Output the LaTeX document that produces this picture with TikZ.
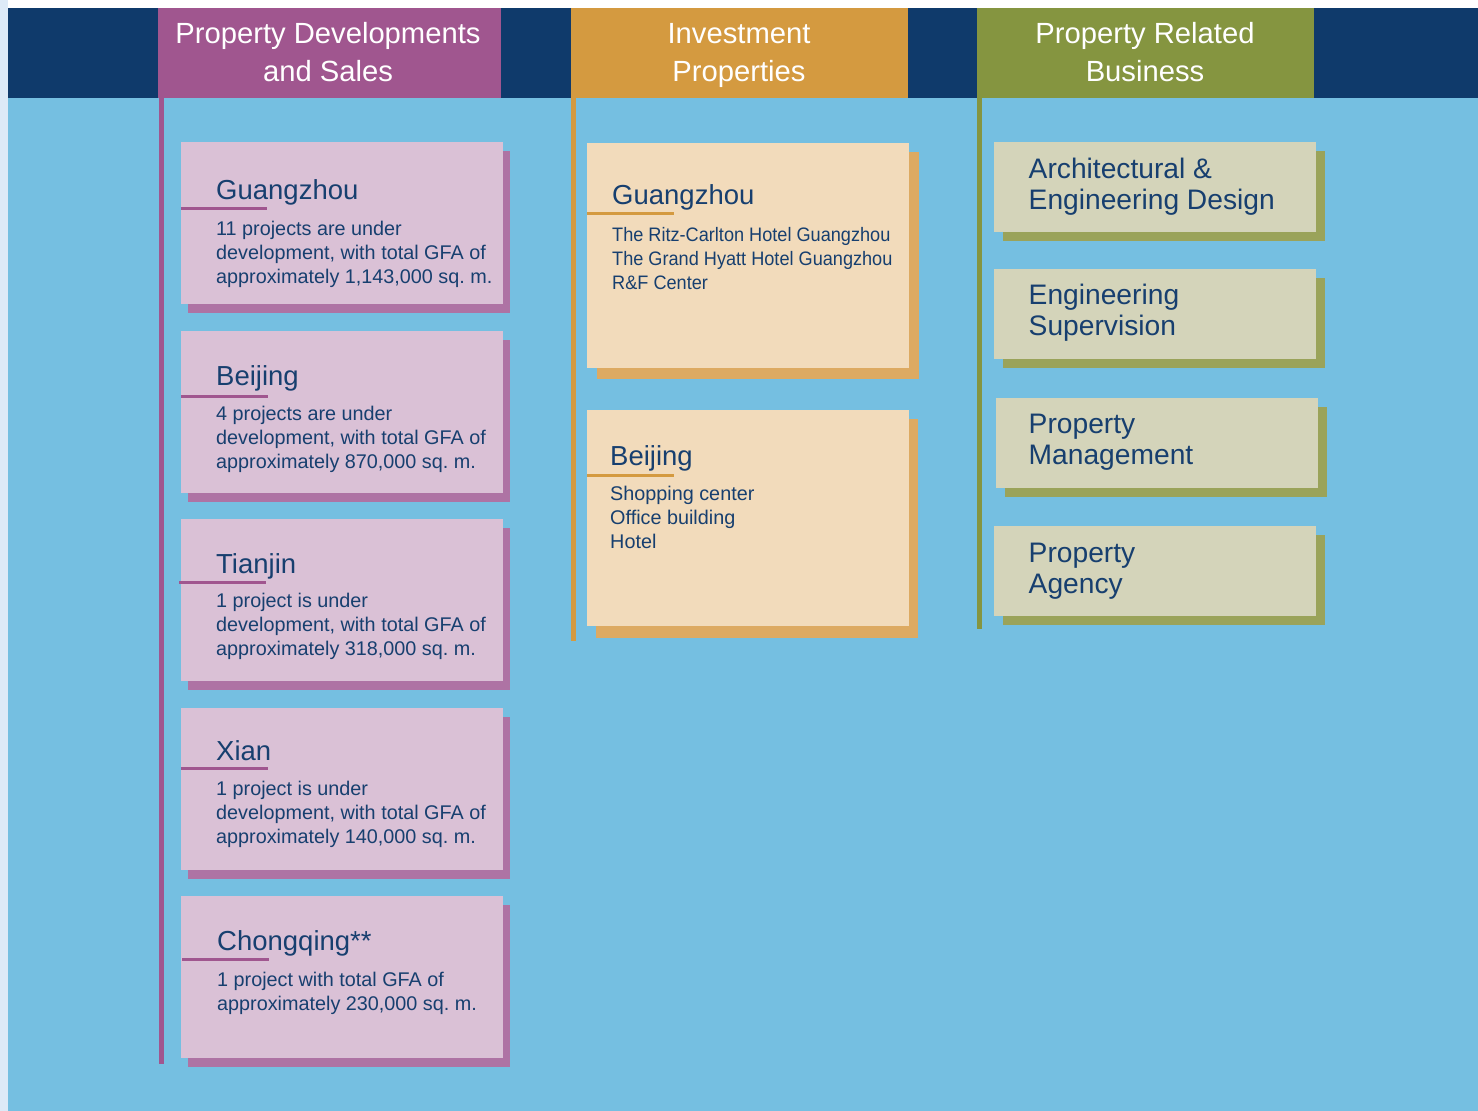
\documentclass[tikz,border=0pt]{standalone}
\usepackage{fontspec}
\setmainfont{Liberation Sans}
\newfontfamily\narrowfont[FakeStretch=0.93]{Liberation Sans}
\frenchspacing
\definecolor{navy}{HTML}{0F3A6B}
\definecolor{bgblue}{HTML}{75BFE1}
\definecolor{strip}{HTML}{DDEAF7}
\definecolor{hpurple}{HTML}{A0568F}
\definecolor{bpurple}{HTML}{DAC1D6}
\definecolor{spurple}{HTML}{AE73A4}
\definecolor{horange}{HTML}{D49A40}
\definecolor{borange}{HTML}{F2DBBB}
\definecolor{sorange}{HTML}{DDAA62}
\definecolor{holive}{HTML}{859540}
\definecolor{bolive}{HTML}{D4D4BA}
\definecolor{solive}{HTML}{9AA35A}
\definecolor{txt}{HTML}{173F6F}
\newcommand\leftlines[1]{\vtop{\halign{##\hfil\cr#1\crcr}}}
\newcommand\centerlines[1]{\vtop{\halign{\hfil##\hfil\cr#1\crcr}}}
\tikzset{
  panel/.style={draw=none, inner sep=0pt, outer sep=0pt, anchor=north west},
  hdrtxt/.style={inner sep=0pt, anchor=base, text=white, font=\fontsize{29.2}{38.3}\selectfont},
  ttl/.style={inner sep=0pt, anchor=base west, text=txt, font=\fontsize{27.5}{32}\selectfont},
  bodytxt/.style={inner sep=0pt, anchor=base west, text=txt, font=\fontsize{19.8}{24}\selectfont},
  narrowtxt/.style={inner sep=0pt, anchor=base west, text=txt, font=\narrowfont\fontsize{19.5}{24}\selectfont},
  bigtxt/.style={inner sep=0pt, anchor=base west, text=txt, font=\fontsize{28.2}{31.5}\selectfont},
  uline/.style={line width=3pt},
}
\begin{document}
\begin{tikzpicture}[x=1pt,y=-1pt]
\useasboundingbox (0,0) rectangle (1478,1111);
% background
\fill[white] (0,0) rectangle (1478,1111);
\fill[strip] (0,0) rectangle (8,1111);
\fill[bgblue] (8,98) rectangle (1478,1111);
\fill[navy] (8,8) rectangle (1478,98);

% headers
\node[panel, fill=hpurple, minimum width=343pt, minimum height=90pt] (h1) at (158,8) {};
\node[panel, fill=horange, minimum width=337pt, minimum height=90pt] (h2) at (571,8) {};
\node[panel, fill=holive, minimum width=337.5pt, minimum height=90pt] (h3) at (976.5,8) {};
\node[hdrtxt] (h1t) at (328,43.3) {\centerlines{Property Developments\cr and Sales}};
\node[hdrtxt] (h2t) at (739,43.3) {\centerlines{Investment\cr Properties}};
\node[hdrtxt] (h3t) at (1145,43.3) {\centerlines{Property Related\cr Business}};

% vertical bars
\fill[hpurple] (158.5,98) rectangle (164,1063.5);
\fill[horange] (571,98) rectangle (576,640.5);
\fill[holive] (976.7,98) rectangle (982,629);

% ---------- left column ----------
\fill[spurple] (188,151) rectangle (510,312.7);
\node[panel, fill=bpurple, minimum width=322pt, minimum height=161.7pt] (l1) at (181,142) {};
\node[ttl] (l1t) at (216,199.7) {Guangzhou};
\draw[uline, hpurple] (181,208) -- (267,208);
\node[bodytxt] (l1b) at (216,235) {\leftlines{11 projects are under\cr development, with total GFA of\cr approximately 1,143,000 sq. m.}};

\fill[spurple] (188,340) rectangle (510,501.7);
\node[panel, fill=bpurple, minimum width=322pt, minimum height=161.7pt] (l2) at (181,331) {};
\node[ttl] (l2t) at (216,385.7) {Beijing};
\draw[uline, hpurple] (181,396) -- (268,396);
\node[bodytxt] (l2b) at (216,420.7) {\leftlines{4 projects are under\cr development, with total GFA of\cr approximately 870,000 sq. m.}};

\fill[spurple] (188,528) rectangle (510,689.7);
\node[panel, fill=bpurple, minimum width=322pt, minimum height=161.7pt] (l3) at (181,519) {};
\node[ttl] (l3t) at (216,573.3) {Tianjin};
\draw[uline, hpurple] (179,582) -- (266,582);
\node[bodytxt] (l3b) at (216,607.7) {\leftlines{1 project is under\cr development, with total GFA of\cr approximately 318,000 sq. m.}};

\fill[spurple] (188,717) rectangle (510,878.7);
\node[panel, fill=bpurple, minimum width=322pt, minimum height=161.7pt] (l4) at (181,708) {};
\node[ttl] (l4t) at (216,760) {Xian};
\draw[uline, hpurple] (181,768.5) -- (268,768.5);
\node[bodytxt] (l4b) at (216,795) {\leftlines{1 project is under\cr development, with total GFA of\cr approximately 140,000 sq. m.}};

\fill[spurple] (188,905) rectangle (510,1066.7);
\node[panel, fill=bpurple, minimum width=322pt, minimum height=161.7pt] (l5) at (181,896) {};
\node[ttl] (l5t) at (217,950.7) {Chongqing**};
\draw[uline, hpurple] (182,959) -- (269,959);
\node[bodytxt] (l5b) at (217,986) {\leftlines{1 project with total GFA of\cr approximately 230,000 sq. m.}};

% ---------- middle column ----------
\fill[sorange] (597,152) rectangle (919,379);
\node[panel, fill=borange, minimum width=322pt, minimum height=225pt] (m1) at (587,143) {};
\node[ttl] (m1t) at (612,204) {Guangzhou};
\draw[uline, horange] (587,213) -- (674,213);
\node[narrowtxt] (m1b) at (612,241) {\leftlines{The Ritz-Carlton Hotel Guangzhou\cr The Grand Hyatt Hotel Guangzhou\cr R\&F Center}};

\fill[sorange] (596,419.3) rectangle (917.7,637.7);
\node[panel, fill=borange, minimum width=322pt, minimum height=215.7pt] (m2) at (587,410) {};
\node[ttl] (m2t) at (610,465) {Beijing};
\draw[uline, horange] (587,475.5) -- (674,475.5);
\node[bodytxt] (m2b) at (610,500) {\leftlines{Shopping center\cr Office building\cr Hotel}};

% ---------- right column ----------
\fill[solive] (1003,151) rectangle (1325,240.7);
\node[panel, fill=bolive, minimum width=322pt, minimum height=90pt] (r1) at (994,142) {};
\node[bigtxt] (r1t) at (1028.5,178) {\leftlines{Architectural \&\cr Engineering Design}};

\fill[solive] (1003,278.3) rectangle (1325,367.7);
\node[panel, fill=bolive, minimum width=322pt, minimum height=89.4pt] (r2) at (994,269.3) {};
\node[bigtxt] (r2t) at (1028.5,304) {\leftlines{Engineering\cr Supervision}};

\fill[solive] (1005,407) rectangle (1327,497);
\node[panel, fill=bolive, minimum width=322pt, minimum height=89.7pt] (r3) at (996,398) {};
\node[bigtxt] (r3t) at (1028.5,433) {\leftlines{Property\cr Management}};

\fill[solive] (1003,535) rectangle (1325,625);
\node[panel, fill=bolive, minimum width=322pt, minimum height=89.7pt] (r4) at (994,526) {};
\node[bigtxt] (r4t) at (1028.5,562) {\leftlines{Property\cr Agency}};
\end{tikzpicture}
\end{document}
